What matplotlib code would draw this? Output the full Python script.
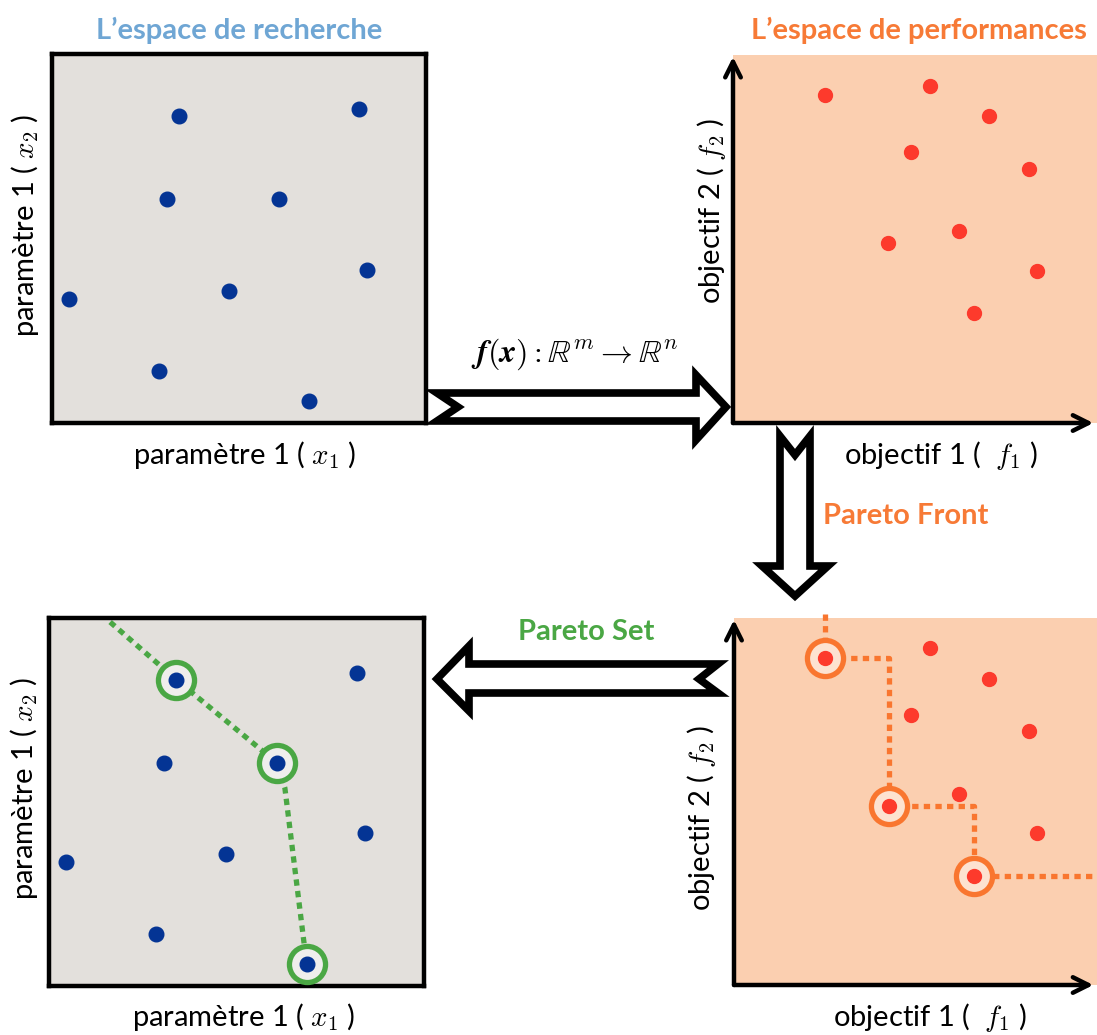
import matplotlib
matplotlib.use("Agg")
import matplotlib.pyplot as plt
from matplotlib.patches import Polygon

plt.rcParams['mathtext.fontset'] = 'cm'
plt.rcParams['font.family'] = ['Lato', 'DejaVu Sans']

# ---------------- data ----------------
# search space (parameters x1, x2) on a 0-10 scale
param_x1 = [3.40, 8.21, 3.07, 6.07, 0.45, 4.73, 8.42, 2.86, 6.87]
param_x2 = [8.32, 8.51, 6.07, 6.07, 3.36, 3.58, 4.15, 1.41, 0.60]
# performance space (objectives f1, f2) on a 0-10 scale
obj_f1 = [2.49, 5.35, 6.96, 4.83, 8.04, 4.21, 6.14, 8.26, 6.55]
obj_f2 = [8.92, 9.17, 8.33, 7.37, 6.91, 4.89, 5.21, 4.13, 2.98]
# indices of the Pareto-optimal solutions
pareto_idx = [0, 5, 8]          # in performance space
pareto_set_idx = [0, 3, 8]      # corresponding points in search space
# Pareto-set guide curve (search space)
set_curve_x1 = [1.63, 3.40, 6.07, 6.29, 6.87]
set_curve_x2 = [9.89, 8.32, 6.07, 5.38, 0.60]

title_left = "L\u2019espace de recherche"
title_right = "L\u2019espace de performances"
xlab_param = "paramètre 1 ( $x_1$ )"
ylab_param = "paramètre 1 ( $x_2$ )"
xlab_obj = "objectif 1 (  $f_1$ )"
ylab_obj = "objectif 2 ( $f_2$ )"
map_label = r"$\mathbfit{f}(\mathbfit{x}) : \mathbb{R}^m \rightarrow \mathbb{R}^n$"
front_label = "Pareto Front"
set_label = "Pareto Set"

# ---------------- style ----------------
W, H = 1097, 1035
BLUE = '#043494'
RED = '#fd3a2c'
ORANGE = '#f9762f'
GREEN = '#4aa744'
GRAY_BG = '#e3e0dc'
PEACH_BG = '#fbcfb0'
LABEL_FS = 21

fig = plt.figure(figsize=(W / 100, H / 100), dpi=100)


def add_ax(x0, y0, x1, y1):
    return fig.add_axes([x0 / W, 1 - y1 / H, (x1 - x0) / W, (y1 - y0) / H])


def fxy(x, y):
    return (x / W, 1 - y / H)


def setup_left(ax):
    ax.set_facecolor(GRAY_BG)
    ax.set_xlim(0, 10)
    ax.set_ylim(0, 10)
    ax.set_xticks([])
    ax.set_yticks([])
    for s in ax.spines.values():
        s.set_linewidth(3.2)
        s.set_color('black')


def setup_right(ax, xmax):
    ax.set_facecolor(PEACH_BG)
    ax.set_xlim(0, xmax)
    ax.set_ylim(0, 10)
    ax.set_xticks([])
    ax.set_yticks([])
    for s in ax.spines.values():
        s.set_visible(False)
    ap = dict(arrowstyle='->', lw=3.2, color='black', mutation_scale=28,
              shrinkA=0, shrinkB=0)
    ax.annotate('', xy=(0, 0.995), xytext=(0, 0), xycoords='axes fraction',
                arrowprops=ap, annotation_clip=False)
    ax.annotate('', xy=(0.99, 0), xytext=(0, 0), xycoords='axes fraction',
                arrowprops=ap, annotation_clip=False)


# ---- top-left: search space ----
ax1 = add_ax(52, 54, 426, 423)
setup_left(ax1)
ax1.plot(param_x1, param_x2, 'o', color=BLUE, ms=10.5, zorder=4)

# ---- top-right: performance space ----
ax2 = add_ax(733, 55, 1097, 423)
setup_right(ax2, 10 * 364 / 368)
ax2.plot(obj_f1, obj_f2, 'o', color=RED, ms=10, zorder=4)

# ---- bottom-left: Pareto set ----
ax3 = add_ax(49, 618, 424, 986)
setup_left(ax3)
ax3.plot(set_curve_x1, set_curve_x2, color=GREEN, lw=3.8,
         linestyle=(0, (1.2, 1.0)), solid_capstyle='butt',
         dash_capstyle='butt', zorder=2, clip_on=False)
sx = [param_x1[i] for i in pareto_set_idx]
sy = [param_x2[i] for i in pareto_set_idx]
ax3.plot(sx, sy, 'o', ms=26, mfc='#efeeec', mec=GREEN, mew=3.8, zorder=3,
         clip_on=False)
ax3.plot(param_x1, param_x2, 'o', color=BLUE, ms=10.5, zorder=4)

# ---- bottom-right: Pareto front ----
xmax4 = 10 * 363 / 367
ax4 = add_ax(734, 618, 1097, 985)
setup_right(ax4, xmax4)
fx = [obj_f1[i] for i in pareto_idx]
fy = [obj_f2[i] for i in pareto_idx]
step_x = [fx[0]] + fx + [xmax4]
step_y = [10.1] + fy + [fy[-1]]
ax4.plot(step_x, step_y, color=ORANGE, lw=3.8, drawstyle='steps-post',
         linestyle=(0, (1.2, 1.0)), dash_capstyle='butt', zorder=2,
         clip_on=False)
ax4.plot(fx, fy, 'o', ms=26, mfc='#fde2d0', mec=ORANGE, mew=3.8, zorder=3,
         clip_on=False)
ax4.plot(obj_f1, obj_f2, 'o', color=RED, ms=10, zorder=4)

# ---------------- block arrows ----------------
def block_arrow(pts):
    poly = Polygon([fxy(*p) for p in pts], closed=True, transform=fig.transFigure,
                   facecolor='white', edgecolor='black', lw=5.5,
                   joinstyle='miter', zorder=10)
    fig.add_artist(poly)

# right arrow (mapping)
block_arrow([(437, 393), (696, 393), (696, 375), (726, 407), (696, 440),
             (696, 421), (437, 421), (458, 407)])
# down arrow (Pareto front)
block_arrow([(780, 436), (795, 455), (810, 436), (810, 566), (828, 566),
             (795, 596), (762, 566), (780, 566)])
# left arrow (Pareto set)
block_arrow([(718, 664), (469, 664), (469, 646), (437, 679), (469, 711),
             (469, 693), (718, 693), (699, 679)])

# ---------------- texts ----------------
def t(x, y, s, **kw):
    fig.text(*fxy(x, y), s, ha='center', va='center', **kw)

t(239, 30, title_left, fontsize=21, fontweight='bold', color='#6fa6d4')
t(919, 30, title_right, fontsize=21, fontweight='bold', color='#f77a36')
t(245, 455, xlab_param, fontsize=LABEL_FS)
t(25, 225, ylab_param, fontsize=LABEL_FS, rotation=90)
t(941, 455, xlab_obj, fontsize=LABEL_FS)
t(711, 211, ylab_obj, fontsize=LABEL_FS, rotation=90)
t(244, 1017, xlab_param, fontsize=LABEL_FS)
t(24, 788, ylab_param, fontsize=LABEL_FS, rotation=90)
t(930, 1018, xlab_obj, fontsize=LABEL_FS)
t(702, 818, ylab_obj, fontsize=LABEL_FS, rotation=90)
t(575, 354, map_label, fontsize=23)
t(906, 516, front_label, fontsize=21, fontweight='bold', color='#f77a36')
t(586, 632, set_label, fontsize=21, fontweight='bold', color='#4aa744')

fig.savefig('out.png', dpi=100)
